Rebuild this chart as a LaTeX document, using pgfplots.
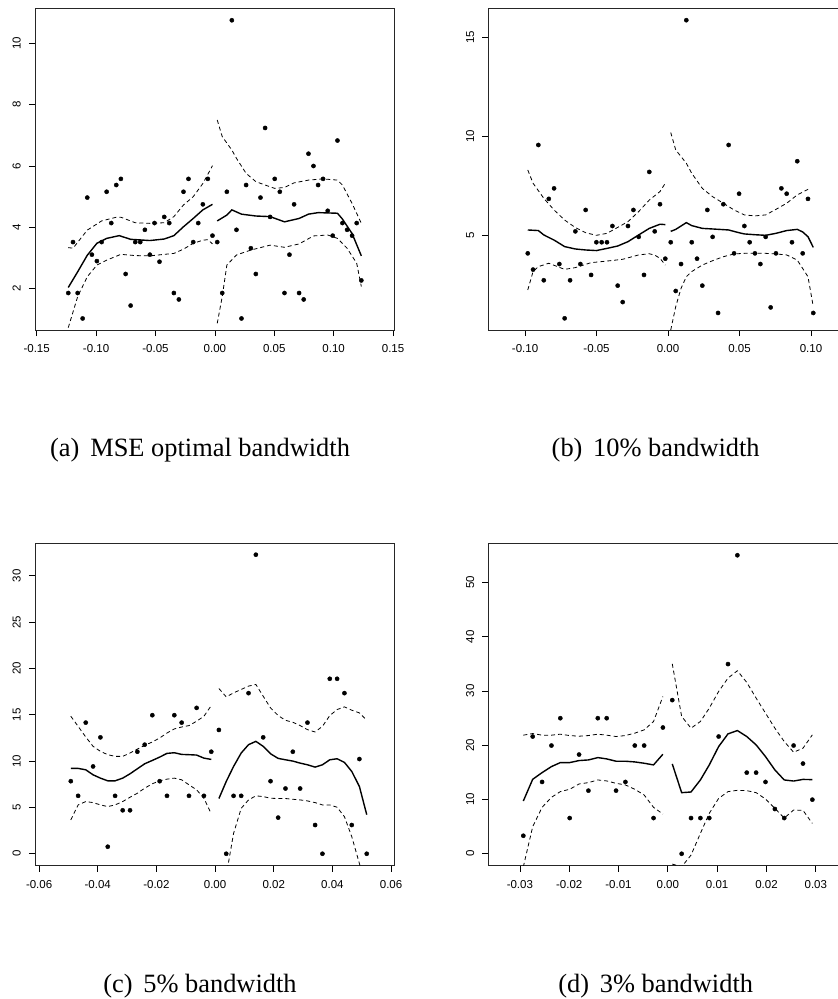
\documentclass[border=0pt]{standalone}
\usepackage{fontspec}
\setmainfont{Liberation Serif}
\newfontfamily\helv{Liberation Sans}
\usepackage{pgfplots}
\pgfplotsset{compat=1.18}

\pgfplotsset{
  rpanel/.style={
    scale only axis, anchor=north west,
    scaled x ticks=false, scaled y ticks=false,
    tick align=outside, major tick length=6pt,
    xtick pos=bottom, ytick pos=left,
    axis line style={line width=0.8pt, black!85},
    tick style={line width=0.7pt, black},
    tick label style={font=\helv\fontsize{11.5}{11.5}\selectfont},
    xticklabel style={anchor=north, inner sep=0pt, yshift=-8.3pt},
    yticklabel style={xshift=-8.3pt, rotate=90, anchor=base, inner sep=0pt},
  },
  cropped/.style={axis x line*=box, axis y line*=left},
  dots/.style={only marks, mark=*, mark size=2.1pt, black},
  fit/.style={no marks, black, line width=1.4pt},
  band/.style={no marks, black, line width=0.8pt, dash pattern=on 4pt off 3pt},
}

\begin{document}
\begin{tikzpicture}[x=1pt, y=1pt]
\path[use as bounding box] (0,0) rectangle (838,-999);

% (a) MSE optimal bandwidth
\begin{axis}[rpanel, at={(35pt,-8pt)}, width=359pt, height=322pt,
  xmin=-0.1514, xmax=0.1508, ymin=0.654, ymax=11.15,
  xtick={-0.15,-0.10,-0.05,0,0.05,0.10,0.15},
  xticklabels={-0.15,-0.10,-0.05,0.00,0.05,0.10,0.15},
  ytick={2,4,6,8,10}, yticklabels={2,4,6,8,10}]
\addplot[dots] coordinates {
(-0.1234,1.86) (-0.1194,3.52) (-0.1155,1.86) (-0.1113,1.03) (-0.1074,4.97)
(-0.1035,3.11) (-0.0993,2.90) (-0.0953,3.52) (-0.0911,5.16) (-0.0872,4.14)
(-0.0830,5.38) (-0.0791,5.58) (-0.0751,2.48) (-0.0709,1.45) (-0.0670,3.52)
(-0.0628,3.52) (-0.0589,3.92) (-0.0547,3.11) (-0.0508,4.14) (-0.0466,2.88)
(-0.0426,4.34) (-0.0384,4.14) (-0.0345,1.86) (-0.0303,1.65) (-0.0264,5.16)
(-0.0222,5.58) (-0.0182,3.52) (-0.0140,4.14) (-0.0101,4.75) (-0.0059,5.58)
(-0.0020,3.73) (0.0020,3.52) (0.0062,1.86) (0.0101,5.16) (0.0143,10.75)
(0.0182,3.92) (0.0224,1.03) (0.0263,5.38) (0.0303,3.32) (0.0345,2.48)
(0.0384,4.97) (0.0423,7.24) (0.0465,4.34) (0.0504,5.58) (0.0547,5.16)
(0.0586,1.86) (0.0628,3.11) (0.0667,4.75) (0.0709,1.86) (0.0748,1.65)
(0.0788,6.40) (0.0830,6.00) (0.0869,5.38) (0.0911,5.58) (0.0950,4.54)
(0.0992,3.73) (0.1032,6.83) (0.1074,4.14) (0.1113,3.92) (0.1155,3.73)
(0.1194,4.14) (0.1233,2.27)};
\addplot[fit] coordinates {
(-0.1234,2.04) (-0.1155,2.55) (-0.1074,3.09) (-0.0993,3.48) (-0.0911,3.64)
(-0.0805,3.73) (-0.0709,3.61) (-0.0547,3.57) (-0.0426,3.62) (-0.0345,3.73)
(-0.0264,4.02) (-0.0182,4.29) (-0.0101,4.57) (-0.0020,4.75)};
\addplot[band] coordinates {
(-0.1234,3.34) (-0.1194,3.32) (-0.1074,3.91) (-0.0953,4.21) (-0.0830,4.33)
(-0.0791,4.33) (-0.0670,4.15) (-0.0547,4.13) (-0.0426,4.15) (-0.0345,4.35)
(-0.0264,4.73) (-0.0182,5.00) (-0.0101,5.43) (-0.0020,6.01)};
\addplot[band] coordinates {
(-0.1234,0.73) (-0.1155,1.74) (-0.1074,2.39) (-0.0993,2.77) (-0.0911,2.93)
(-0.0791,3.12) (-0.0670,3.08) (-0.0547,3.07) (-0.0426,3.12) (-0.0345,3.15)
(-0.0264,3.29) (-0.0182,3.48) (-0.0101,3.58) (-0.0059,3.60) (-0.0020,3.46)};
\addplot[fit] coordinates {
(0.0020,4.21) (0.0101,4.40) (0.0143,4.57) (0.0224,4.43) (0.0345,4.37)
(0.0465,4.35) (0.0586,4.18) (0.0709,4.29) (0.0788,4.43) (0.0869,4.48)
(0.1032,4.46) (0.1074,4.27) (0.1155,3.80) (0.1233,3.07)};
\addplot[band] coordinates {
(0.0020,7.50) (0.0062,6.96) (0.0143,6.52) (0.0182,6.25) (0.0263,5.76)
(0.0345,5.49) (0.0423,5.38) (0.0504,5.27) (0.0586,5.30) (0.0667,5.45)
(0.0788,5.54) (0.0911,5.58) (0.1032,5.54) (0.1074,5.38) (0.1155,4.78)
(0.1233,4.13)};
\addplot[band] coordinates {
(0.0020,0.87) (0.0062,1.74) (0.0101,2.77) (0.0182,3.10) (0.0303,3.26)
(0.0465,3.42) (0.0586,3.35) (0.0709,3.46) (0.0830,3.72) (0.0950,3.75)
(0.1032,3.64) (0.1113,3.32) (0.1194,2.83) (0.1233,2.07)};
\end{axis}

% (b) 10% bandwidth
\begin{axis}[rpanel, cropped, at={(488.3pt,-8.3pt)}, width=349.7pt, height=321.7pt,
  xmin=-0.1257, xmax=0.1189, ymin=0.22, ymax=16.46,
  xtick={-0.10,-0.05,0,0.05,0.10},
  xticklabels={-0.10,-0.05,0.00,0.05,0.10},
  ytick={5,10,15}, yticklabels={5,10,15}]
\addplot[dots] coordinates {
(-0.0981,4.09) (-0.0944,3.27) (-0.0907,9.56) (-0.0869,2.73) (-0.0834,6.84)
(-0.0797,7.37) (-0.0760,3.55) (-0.0723,0.81) (-0.0685,2.73) (-0.0648,5.20)
(-0.0613,3.55) (-0.0576,6.28) (-0.0538,3.00) (-0.0501,4.65) (-0.0464,4.65)
(-0.0427,4.65) (-0.0389,5.47) (-0.0352,2.46) (-0.0317,1.63) (-0.0280,5.47)
(-0.0242,6.28) (-0.0205,4.92) (-0.0168,3.00) (-0.0131,8.20) (-0.0093,5.20)
(-0.0056,6.57) (-0.0019,3.82) (0.0019,4.65) (0.0054,2.19) (0.0091,3.55)
(0.0128,15.86) (0.0166,4.65) (0.0203,3.82) (0.0240,2.46) (0.0275,6.28)
(0.0312,4.92) (0.0350,1.08) (0.0387,6.57) (0.0424,9.56) (0.0462,4.09)
(0.0497,7.10) (0.0534,5.47) (0.0571,4.65) (0.0608,4.09) (0.0646,3.55)
(0.0683,4.92) (0.0718,1.36) (0.0755,4.09) (0.0793,7.37) (0.0830,7.10)
(0.0867,4.65) (0.0904,8.74) (0.0942,4.09) (0.0979,6.84) (0.1016,1.08)};
\addplot[fit] coordinates {
(-0.0981,5.27) (-0.0907,5.24) (-0.0869,5.02) (-0.0797,4.76) (-0.0723,4.43)
(-0.0648,4.31) (-0.0576,4.26) (-0.0501,4.23) (-0.0427,4.34) (-0.0352,4.46)
(-0.0280,4.68) (-0.0205,5.02) (-0.0131,5.35) (-0.0056,5.56) (-0.0019,5.54)};
\addplot[band] coordinates {
(-0.0981,8.30) (-0.0944,7.63) (-0.0869,6.87) (-0.0797,6.28) (-0.0723,5.77)
(-0.0648,5.39) (-0.0576,5.13) (-0.0501,5.00) (-0.0427,5.10) (-0.0352,5.40)
(-0.0280,5.69) (-0.0205,6.20) (-0.0131,6.78) (-0.0056,7.21) (-0.0019,7.63)};
\addplot[band] coordinates {
(-0.0981,2.24) (-0.0944,3.17) (-0.0907,3.42) (-0.0834,3.59) (-0.0723,3.28)
(-0.0648,3.37) (-0.0538,3.62) (-0.0427,3.70) (-0.0317,3.79) (-0.0205,4.01)
(-0.0131,4.07) (-0.0093,4.00) (-0.0056,3.84) (-0.0019,3.50)};
\addplot[fit] coordinates {
(0.0019,5.20) (0.0054,5.30) (0.0091,5.47) (0.0128,5.64) (0.0166,5.49)
(0.0240,5.35) (0.0312,5.32) (0.0424,5.27) (0.0497,5.13) (0.0534,5.07)
(0.0608,5.03) (0.0683,5.00) (0.0755,5.10) (0.0830,5.24) (0.0904,5.30)
(0.0942,5.17) (0.0979,4.93) (0.1016,4.39)};
\addplot[band] coordinates {
(0.0019,10.19) (0.0054,9.31) (0.0128,8.64) (0.0166,8.13) (0.0240,7.37)
(0.0312,6.95) (0.0387,6.62) (0.0462,6.28) (0.0534,6.03) (0.0608,5.98)
(0.0683,6.03) (0.0755,6.31) (0.0830,6.62) (0.0904,7.04) (0.0979,7.32)
(0.0998,7.32)};
\addplot[band] coordinates {
(0.0019,0.22) (0.0054,1.40) (0.0091,2.32) (0.0128,2.91) (0.0166,3.17)
(0.0240,3.50) (0.0312,3.72) (0.0387,3.92) (0.0462,4.06) (0.0534,4.09)
(0.0608,4.09) (0.0683,4.09) (0.0755,4.06) (0.0830,4.01) (0.0904,3.75)
(0.0979,2.91) (0.1016,1.40)};
\end{axis}

% (c) 5% bandwidth
\begin{axis}[rpanel, at={(35pt,-543.3pt)}, width=359.3pt, height=322.4pt,
  xmin=-0.0614, xmax=0.0611, ymin=-1.29, ymax=33.5,
  xtick={-0.06,-0.04,-0.02,0,0.02,0.04,0.06},
  xticklabels={-0.06,-0.04,-0.02,0.00,0.02,0.04,0.06},
  ytick={0,5,10,15,20,25,30}, yticklabels={0,5,10,15,20,25,30}]
\addplot[dots] coordinates {
(-0.0492,7.83) (-0.0467,6.25) (-0.0441,14.15) (-0.0416,9.42) (-0.0391,12.56)
(-0.0366,0.76) (-0.0341,6.25) (-0.0315,4.69) (-0.0290,4.69) (-0.0265,11.01)
(-0.0240,11.77) (-0.0214,14.95) (-0.0189,7.83) (-0.0164,6.25) (-0.0139,14.95)
(-0.0114,14.15) (-0.0089,6.25) (-0.0063,15.74) (-0.0038,6.25) (-0.0013,11.01)
(0.0013,13.36) (0.0038,0.00) (0.0063,6.25) (0.0089,6.25) (0.0114,17.33)
(0.0139,32.27) (0.0164,12.56) (0.0189,7.83) (0.0215,3.90) (0.0240,7.04)
(0.0265,11.01) (0.0290,7.04) (0.0315,14.15) (0.0341,3.10) (0.0366,0.00)
(0.0391,18.88) (0.0416,18.88) (0.0441,17.33) (0.0466,3.10) (0.0492,10.22)
(0.0517,0.00)};
\addplot[fit] coordinates {
(-0.0492,9.21) (-0.0467,9.21) (-0.0441,9.06) (-0.0416,8.52) (-0.0391,8.16)
(-0.0366,7.87) (-0.0341,7.87) (-0.0315,8.16) (-0.0290,8.63) (-0.0265,9.17)
(-0.0240,9.71) (-0.0214,10.07) (-0.0189,10.43) (-0.0164,10.83) (-0.0139,10.90)
(-0.0114,10.72) (-0.0089,10.69) (-0.0063,10.65) (-0.0038,10.32) (-0.0013,10.18)};
\addplot[band] coordinates {
(-0.0492,14.84) (-0.0467,13.75) (-0.0441,12.60) (-0.0416,11.59) (-0.0391,11.05)
(-0.0366,10.69) (-0.0341,10.51) (-0.0315,10.51) (-0.0290,10.87) (-0.0265,11.30)
(-0.0240,11.70) (-0.0214,12.06) (-0.0189,12.49) (-0.0164,13.03) (-0.0139,13.47)
(-0.0114,13.68) (-0.0089,13.83) (-0.0063,14.30) (-0.0038,14.84) (-0.0013,15.99)};
\addplot[band] coordinates {
(-0.0492,3.65) (-0.0467,5.27) (-0.0441,5.63) (-0.0416,5.52) (-0.0391,5.27)
(-0.0366,5.09) (-0.0341,5.27) (-0.0315,5.63) (-0.0290,6.10) (-0.0265,6.53)
(-0.0240,7.08) (-0.0214,7.55) (-0.0189,7.87) (-0.0164,8.05) (-0.0139,8.16)
(-0.0114,7.98) (-0.0089,7.44) (-0.0063,6.90) (-0.0038,5.99) (-0.0013,4.30)};
\addplot[fit] coordinates {
(0.0013,5.96) (0.0038,7.80) (0.0063,9.42) (0.0089,10.87) (0.0114,11.77)
(0.0139,12.13) (0.0164,11.59) (0.0189,10.79) (0.0215,10.29) (0.0240,10.14)
(0.0265,10.00) (0.0290,9.78) (0.0315,9.60) (0.0341,9.35) (0.0366,9.60)
(0.0391,10.14) (0.0416,10.25) (0.0441,9.86) (0.0466,8.88) (0.0492,7.26)
(0.0517,4.22)};
\addplot[band] coordinates {
(0.0013,17.83) (0.0038,16.93) (0.0063,17.36) (0.0089,17.73) (0.0114,18.09)
(0.0139,18.27) (0.0164,17.00) (0.0189,15.74) (0.0215,14.91) (0.0240,14.40)
(0.0265,14.19) (0.0290,13.83) (0.0315,13.39) (0.0341,13.14) (0.0366,13.75)
(0.0391,14.91) (0.0416,15.56) (0.0441,15.85) (0.0466,15.49) (0.0492,15.20)
(0.0517,14.40)};
\addplot[band] coordinates {
(0.0013,-6.90) (0.0063,2.20) (0.0089,4.90) (0.0114,5.81) (0.0139,6.25)
(0.0164,6.17) (0.0189,5.99) (0.0215,5.96) (0.0240,5.96) (0.0265,5.88)
(0.0290,5.81) (0.0315,5.70) (0.0341,5.52) (0.0366,5.27) (0.0391,5.27)
(0.0416,5.02) (0.0441,4.00) (0.0466,1.84) (0.0492,-1.05) (0.0517,-4.00)};
\end{axis}

% (d) 3% bandwidth
\begin{axis}[rpanel, cropped, at={(488.3pt,-543.3pt)}, width=349.7pt, height=322.4pt,
  xmin=-0.0364, xmax=0.0345, ymin=-2.2, ymax=57.2,
  xtick={-0.03,-0.02,-0.01,0,0.01,0.02,0.03},
  xticklabels={-0.03,-0.02,-0.01,0.00,0.01,0.02,0.03},
  ytick={0,10,20,30,40,50}, yticklabels={0,10,20,30,40,50}]
\addplot[dots] coordinates {
(-0.0293,3.32) (-0.0274,21.60) (-0.0255,13.23) (-0.0236,19.94) (-0.0218,24.98)
(-0.0199,6.58) (-0.0180,18.28) (-0.0161,11.63) (-0.0142,24.98) (-0.0124,24.98)
(-0.0105,11.63) (-0.0086,13.23) (-0.0067,19.94) (-0.0048,19.94) (-0.0029,6.58)
(-0.0010,23.26) (0.0009,28.31) (0.0028,0.00) (0.0047,6.58) (0.0066,6.58)
(0.0084,6.58) (0.0103,21.60) (0.0122,34.95) (0.0141,55.00) (0.0160,14.95)
(0.0179,14.95) (0.0198,13.23) (0.0217,8.25) (0.0236,6.58) (0.0255,19.94)
(0.0274,16.62) (0.0293,9.97)};
\addplot[fit] coordinates {
(-0.0293,9.72) (-0.0274,13.72) (-0.0255,14.95) (-0.0236,16.06) (-0.0218,16.80)
(-0.0199,16.80) (-0.0180,17.17) (-0.0161,17.29) (-0.0142,17.72) (-0.0124,17.48)
(-0.0105,17.05) (-0.0086,17.05) (-0.0067,16.92) (-0.0048,16.68) (-0.0029,16.37)
(-0.0010,18.34)};
\addplot[band] coordinates {
(-0.0293,21.85) (-0.0274,22.15) (-0.0255,21.85) (-0.0236,21.85) (-0.0218,22.03)
(-0.0199,21.78) (-0.0180,21.66) (-0.0161,21.78) (-0.0142,22.03) (-0.0124,21.85)
(-0.0105,21.60) (-0.0086,21.78) (-0.0067,22.22) (-0.0048,22.83) (-0.0029,24.37)
(-0.0010,28.98)};
\addplot[band] coordinates {
(-0.0293,-2.40) (-0.0274,4.98) (-0.0255,8.55) (-0.0236,10.40) (-0.0218,11.45)
(-0.0199,11.88) (-0.0180,12.86) (-0.0161,13.11) (-0.0142,13.60) (-0.0124,13.42)
(-0.0105,12.98) (-0.0086,12.68) (-0.0067,11.88) (-0.0048,10.83) (-0.0029,8.55)
(-0.0010,7.32)};
\addplot[fit] coordinates {
(0.0009,16.55) (0.0028,11.26) (0.0047,11.38) (0.0066,13.60) (0.0084,16.37)
(0.0103,19.75) (0.0122,22.09) (0.0141,22.70) (0.0160,21.60) (0.0179,20.06)
(0.0198,17.90) (0.0217,15.45) (0.0236,13.60) (0.0255,13.40) (0.0274,13.70)
(0.0293,13.66)};
\addplot[band] coordinates {
(0.0009,35.00) (0.0028,25.30) (0.0047,23.14) (0.0066,24.37) (0.0084,26.83)
(0.0103,29.91) (0.0122,32.37) (0.0141,33.72) (0.0160,31.57) (0.0179,28.68)
(0.0198,25.91) (0.0217,23.14) (0.0236,20.68) (0.0255,18.71) (0.0274,19.45)
(0.0293,21.91)};
\addplot[band] coordinates {
(0.0009,-1.90) (0.0028,-2.40) (0.0047,-0.25) (0.0066,3.75) (0.0084,7.45)
(0.0103,10.20) (0.0122,11.45) (0.0141,11.69) (0.0160,11.63) (0.0179,11.26)
(0.0198,10.09) (0.0217,8.37) (0.0236,6.58) (0.0255,8.06) (0.0274,8.00)
(0.0293,5.60)};
\end{axis}

\begin{scope}[every node/.style={anchor=base, inner sep=0pt,
    font=\fontsize{26.4}{26.4}\selectfont}]
\node at (200,-456.7) {(a)\hspace{11pt}MSE optimal bandwidth};
\node at (655.7,-456.7) {(b)\hspace{10.7pt}10\% bandwidth};
\node at (200,-992.4) {(c)\hspace{10.7pt}5\% bandwidth};
\node at (655.7,-992.4) {(d)\hspace{10.7pt}3\% bandwidth};
\end{scope}
\end{tikzpicture}
\end{document}
